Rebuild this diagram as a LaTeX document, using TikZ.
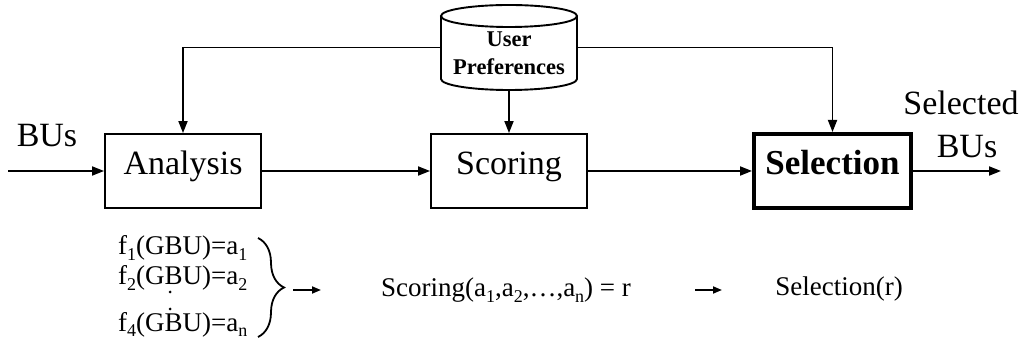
\documentclass[tikz,border=0pt]{standalone}
\usepackage{fontspec}
\setmainfont{Liberation Serif}
\usetikzlibrary{arrows.meta,decorations.pathreplacing}

% lowered index in the formulas
\newcommand\sbs[1]{\raisebox{-0.22em}{\fontsize{18}{18}\selectfont #1}}

\begin{document}
\begin{tikzpicture}[x=1pt,y=-1pt,
  box/.style={draw,line width=1.9pt,minimum width=156pt,minimum height=74pt,
    inner sep=0pt,text height=0.66em,text depth=0pt,font=\fontsize{34}{40}\selectfont},
  flow/.style={line width=1.8pt,-{Triangle[length=12pt,width=9pt]}},
  small/.style={line width=1.8pt,-{Triangle[length=9pt,width=7pt]}},
  lbl/.style={font=\fontsize{34}{40}\selectfont,inner sep=0pt,anchor=base},
  eq/.style={font=\fontsize{27}{32}\selectfont,inner sep=0pt,anchor=base},
  cyl/.style={line width=1.9pt}]

\useasboundingbox (0,0) rectangle (1027,352);

% processing stages
\node[box] (ana) at (183,171) {Analysis};
\node[box] (sco) at (509,171) {Scoring};
\node[box,line width=4pt,minimum width=157pt,minimum height=74pt,
  font=\fontsize{35}{40}\selectfont\bfseries] (sel) at (832.5,171) {Selection};

% preference store (cylinder)
\node[minimum width=136pt,minimum height=85pt,inner sep=0pt] (pref) at (509,47.5) {};
\draw[cyl] (441,16) -- (441,79) arc[start angle=180,end angle=360,x radius=68pt,y radius=11pt] -- (577,16);
\draw[cyl] (509,16) ellipse [x radius=68pt,y radius=11pt];
\node[font=\fontsize{22.5}{22}\selectfont\bfseries,inner sep=0pt,anchor=base] (u1) at (509,47) {User};
\node[font=\fontsize{22.5}{22}\selectfont\bfseries,inner sep=0pt,anchor=base] (u2) at (509,75) {Preferences};

% preference feeds
\draw[flow] (pref.west) -| (ana.north);
\draw[flow] (pref.east) -| (sel.north);
\draw[flow] (pref.south) -- (sco.north);

% main flow
\coordinate (in) at (8,171);
\coordinate (out) at (1001,171);
\draw[flow] (in) -- (ana.west);
\draw[flow] (ana) -- (sco);
\draw[flow] (sco) -- (sel);
\draw[flow] (sel.east) -- (out);

\node[lbl] (busin) at (47,147) {BUs};
\node[lbl] (selout1) at (961,115) {Selected};
\node[lbl] (selout2) at (967,158) {BUs};

% formulas
\node[eq,anchor=base west] (f1) at (118,255) {f\sbs{1}(GBU)=a\sbs{1}};
\node[eq,anchor=base west] (f2) at (118,285) {f\sbs{2}(GBU)=a\sbs{2}};
\node[eq,anchor=base west] (f4) at (118,331) {f\sbs{4}(GBU)=a\sbs{n}};
\fill (170,292) circle (1.5pt);
\fill (170,309) circle (1.5pt);
\draw[line width=1.8pt,decorate,decoration={brace,amplitude=26pt}] (258,238) -- (258,337);

\coordinate (a1s) at (293,290);
\coordinate (a1e) at (321,290);
\draw[small] (a1s) -- (a1e);
\node[eq] (scf) at (506,297) {Scoring(a\sbs{1},a\sbs{2},…,a\sbs{n}) = r};
\coordinate (a2s) at (695,290);
\coordinate (a2e) at (722,290);
\draw[small] (a2s) -- (a2e);
\node[eq] (self) at (839,295) {Selection(r)};
\end{tikzpicture}
\end{document}
